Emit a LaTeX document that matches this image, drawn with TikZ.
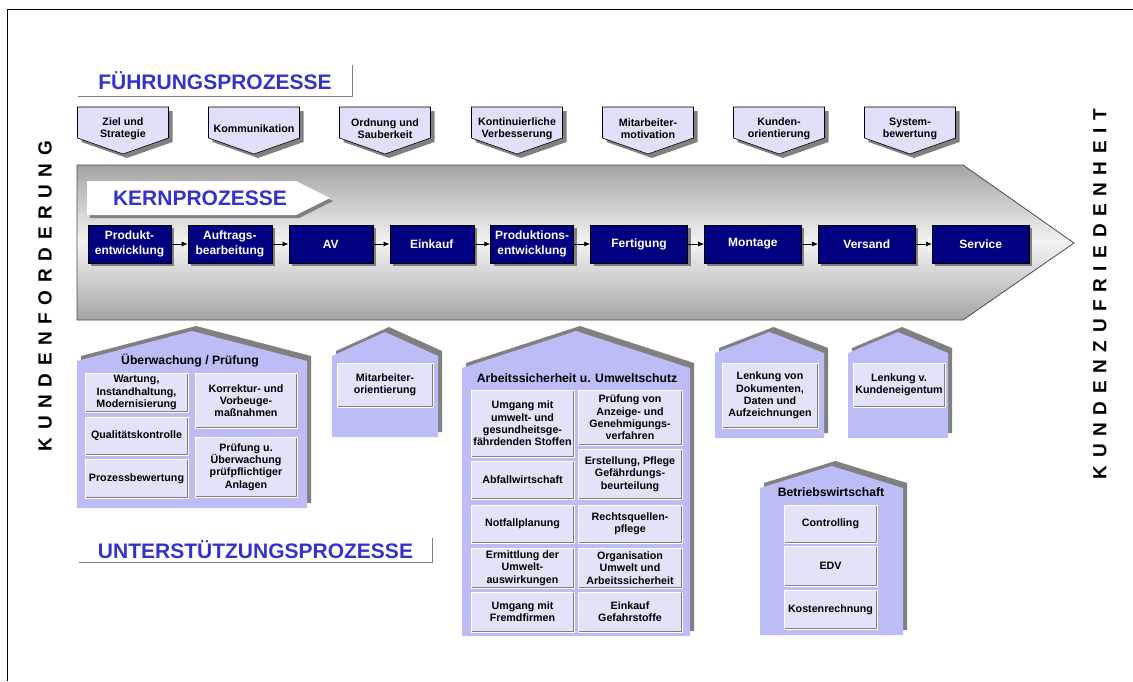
\documentclass[tikz,border=0pt]{standalone}
\usepackage{fontspec}
\setmainfont{Liberation Sans}
\newfontfamily\spacedfont[LetterSpace=40]{Liberation Sans}
\usetikzlibrary{arrows.meta,positioning,calc,shadows,backgrounds}

\definecolor{navybox}{HTML}{000080}
\definecolor{titleblue}{HTML}{3333CC}
\definecolor{leadfill}{HTML}{E0E0FA}
\definecolor{housefill}{HTML}{BCBCF6}
\definecolor{cellfill}{HTML}{E2E2F8}
\definecolor{shadegray}{HTML}{808080}
\definecolor{arrowtop}{HTML}{A4A4A4}
\definecolor{arrowmid}{HTML}{F4F4F4}

\newcommand\fntcell{\bfseries\fontsize{10.7}{12.3}\selectfont}
\newcommand\fntproc{\bfseries\fontsize{12}{14.5}\selectfont}
\newcommand\fnthouse{\bfseries\fontsize{12.2}{14}\selectfont}
\newcommand\fntbig{\bfseries\fontsize{21}{25}\selectfont}
\newcommand\fntside{\spacedfont\bfseries\fontsize{19}{22}\selectfont}

\begin{document}
\begin{tikzpicture}[x=1pt,y=-1pt,>=Latex,node distance=16.5pt]
\tikzstyle{lead}=[align=center,inner sep=0pt,font=\fntcell]
\tikzstyle{leadshape}=[draw=black,line width=0.6pt,fill=leadfill,drop shadow={shadow xshift=4pt,shadow yshift=-4pt,fill=shadegray,opacity=1}]
\tikzstyle{proc}=[draw=black,line width=0.4pt,fill=navybox,text=white,align=center,inner sep=1pt,minimum height=38pt,font=\fntproc,drop shadow={shadow xshift=3pt,shadow yshift=-3pt,fill=shadegray,opacity=1}]
\tikzstyle{flow}=[-{Latex[length=6pt,width=5pt]},line width=0.8pt]
\tikzstyle{house}=[fill=housefill,drop shadow={shadow xshift=4pt,shadow yshift=5pt,fill=shadegray,opacity=1}]
\tikzstyle{cell}=[fill=cellfill,draw=white,line width=0.8pt,align=center,inner sep=1pt,font=\fntcell,
  path picture={\draw[shadegray,line width=1.6pt] (path picture bounding box.south west) -- (path picture bounding box.south east) -- (path picture bounding box.north east);}]
\tikzstyle{housetitle}=[font=\fnthouse]
\tikzstyle{bigtitle}=[text=titleblue,font=\fntbig,inner sep=0pt]
\tikzstyle{frameline}=[draw=shadegray,line width=1.2pt]
\tikzstyle{sideword}=[rotate=90,font=\fntside]

\useasboundingbox (0,0) rectangle (1133,681);
% Rahmen (nur oben und links sichtbar)
\draw[line width=1pt] (7,681) -- (7,9) -- (1133,9);

% Kunde links und rechts
\node[sideword] (kf) at (45,296) {KUNDENFORDERUNG};
\node[sideword] (kz) at (1100,294) {KUNDENZUFRIEDENHEIT};

% Fuehrungsprozesse
\node[bigtitle,minimum width=274pt,minimum height=31pt] (fp) at (215,80.5) {FÜHRUNGSPROZESSE};
\draw[frameline] (fp.south west) -- (fp.south east) -- (fp.north east);

\foreach \n/\x/\t in {ziel/123/{Ziel und\\Strategie},komm/254/Kommunikation,ordn/385/{Ordnung und\\Sauberkeit},
  kvp/517/{Kontinuierliche\\Verbesserung},mamo/648/{Mitarbeiter-\\motivation},kuor/779/{Kunden-\\orientierung},sysb/910/{System-\\bewertung}}
  \node[lead] (\n) at (\x,129) {\t};

\begin{scope}[on background layer]
\foreach \n in {ziel,komm,ordn,kvp,mamo,kuor,sysb}
  \draw[leadshape] ($(\n)+(-45.5,-22)$) -- ($(\n)+(45.5,-22)$) -- ($(\n)+(45.5,9)$) -- ($(\n)+(0,25)$) -- ($(\n)+(-45.5,9)$) -- cycle;
\end{scope}

% Kernprozesse
\path[draw=black!70,line width=0.8pt,top color=arrowtop,bottom color=arrowtop,middle color=arrowmid]
  (77,165) -- (963,165) -- (1074,243) -- (963,320) -- (77,320) -- cycle;
\fill[white,drop shadow={shadow xshift=3pt,shadow yshift=-3pt,fill=shadegray,opacity=1}]
  (87,181) -- (296,181) -- (330,198) -- (296,215) -- (87,215) -- cycle;
\node[bigtitle] (kp) at (200,198) {KERNPROZESSE};

\node[proc,minimum width=83pt] (pe) at (129.5,244) {Produkt-\\entwicklung};
\node[proc,minimum width=84pt,right=of pe] (ab) {Auftrags-\\bearbeitung};
\node[proc,minimum width=84pt,right=of ab] (av) {AV};
\node[proc,minimum width=84pt,right=of av] (ek) {Einkauf};
\node[proc,minimum width=83pt,right=of ek] (pre) {Produktions-\\entwicklung};
\node[proc,minimum width=97pt,right=of pre] (fe) {Fertigung};
\node[proc,minimum width=97pt,right=of fe] (mo) {Montage};
\node[proc,minimum width=97pt,right=of mo] (ve) {Versand};
\node[proc,minimum width=97pt,right=of ve] (se) {Service};
\foreach \a/\b in {pe/ab,ab/av,av/ek,ek/pre,pre/fe,fe/mo,mo/ve,ve/se}
  \draw[flow] (\a) -- (\b);

% Unterstuetzungsprozesse
\foreach \l/\r/\e/\a/\b in {77/307/361/331/508,332/438/356/332/437,462/690/368/331/636,
  715/824/353/332/438,848/948/353/332/438,760/903/488/466/635}
  \path[house] (\l,\b) -- (\l,\e) -- ({(\l+\r)/2},\a) -- (\r,\e) -- (\r,\b) -- cycle;

\node[housetitle] (uew) at (190,361) {Überwachung / Prüfung};
\node[cell,minimum width=103pt,minimum height=39pt] (wart) at (136.5,392.5) {Wartung,\\Instandhaltung,\\Modernisierung};
\node[cell,minimum width=103pt,minimum height=38pt] (qk) at (136.5,436) {Qualitätskontrolle};
\node[cell,minimum width=103pt,minimum height=39pt] (pb) at (136.5,478.5) {Prozessbewertung};
\node[cell,minimum width=102pt,minimum height=55pt] (kor) at (246,400.5) {Korrektur- und\\Vorbeuge-\\maßnahmen};
\node[cell,minimum width=102pt,minimum height=60pt] (pa) at (246,467) {Prüfung u.\\Überwachung\\prüfpflichtiger\\Anlagen};

\node[cell,minimum width=96pt,minimum height=44pt] (mao) at (385,385) {Mitarbeiter-\\orientierung};

\node[housetitle] (asu) at (577,378) {Arbeitssicherheit u. Umweltschutz};
\node[cell,minimum width=103pt,minimum height=67pt] (ugs) at (522.5,423.5) {Umgang mit\\umwelt- und\\gesundheitsge-\\fährdenden Stoffen};
\node[cell,minimum width=103pt,minimum height=38pt] (afw) at (522.5,480) {Abfallwirtschaft};
\node[cell,minimum width=103pt,minimum height=38pt] (nfp) at (522.5,524) {Notfallplanung};
\node[cell,minimum width=103pt,minimum height=40pt] (eua) at (522.5,568) {Ermittlung der\\Umwelt-\\auswirkungen};
\node[cell,minimum width=103pt,minimum height=40pt] (ufr) at (522.5,612) {Umgang mit\\Fremdfirmen};
\node[cell,minimum width=104pt,minimum height=55pt] (pag) at (630,417.5) {Prüfung von\\Anzeige- und\\Genehmigungs-\\verfahren};
\node[cell,minimum width=104pt,minimum height=50pt] (egb) at (630,474) {Erstellung, Pflege\\Gefährdungs-\\beurteilung};
\node[cell,minimum width=104pt,minimum height=38pt] (rqp) at (630,524) {Rechtsquellen-\\pflege};
\node[cell,minimum width=104pt,minimum height=40pt] (oua) at (630,568) {Organisation\\Umwelt und\\Arbeitssicherheit};
\node[cell,minimum width=104pt,minimum height=40pt] (egs) at (630,612) {Einkauf\\Gefahrstoffe};

\node[cell,minimum width=96pt,minimum height=65pt] (ldd) at (770,395.5) {Lenkung von\\Dokumenten,\\Daten und\\Aufzeichnungen};
\node[cell,minimum width=92pt,minimum height=44pt] (lke) at (899,385) {Lenkung v.\\Kundeneigentum};

\node[housetitle] (bw) at (831,492) {Betriebswirtschaft};
\node[cell,minimum width=93pt,minimum height=38pt] (ctr) at (830.5,524) {Controlling};
\node[cell,minimum width=93pt,minimum height=40pt] (edv) at (830.5,566) {EDV};
\node[cell,minimum width=93pt,minimum height=39pt] (kr) at (830.5,609.5) {Kostenrechnung};

\node[bigtitle,minimum width=353pt,minimum height=24pt] (up) at (255.5,550) {UNTERSTÜTZUNGSPROZESSE};
\draw[frameline] (up.south west) -- (up.south east) -- (up.north east);
\end{tikzpicture}
\end{document}
